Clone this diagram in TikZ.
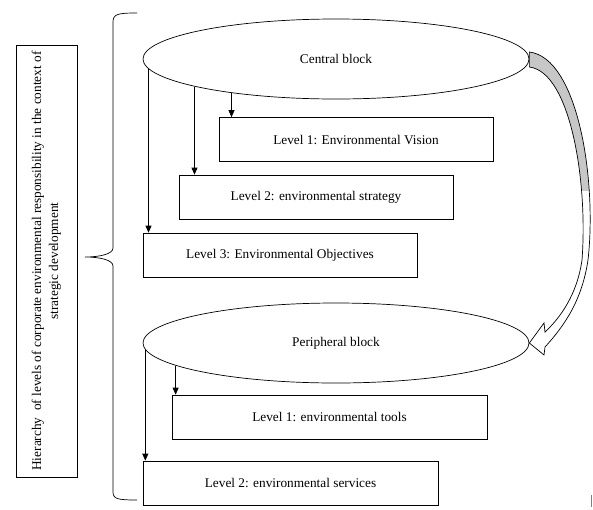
\documentclass[tikz,border=0pt]{standalone}
\usepackage{fontspec}
\setmainfont{Liberation Serif}
\usetikzlibrary{shapes.geometric, arrows.meta}

% outline of the bent block arrow between the two blocks
\newcommand{\turnarrow}{([yshift=7pt]central.east)
  .. controls (578,58) and (597,180) .. (588,260)
  .. controls (582,300) and (565,325) .. (545,347)
  -- (544,355) -- (peripheral.east) -- (544,323) -- (545,332)
  .. controls (560,318) and (577,295) .. (582,260)
  .. controls (588,180) and (570,72) .. ([yshift=-8pt]central.east) -- cycle}

\begin{document}
\begin{tikzpicture}[
    > = {Triangle[length=7pt, width=6pt]}, % arrow head style
    x = 1pt, y = -1pt, % pixel like coordinates
    line width = 0.7pt, % line style
    font = \fontsize{13.3}{17}\selectfont
  ]

  \tikzstyle{level}=[
  draw = black,
  rectangle,
  minimum height = 44pt,
  inner sep = 1pt
  ]
  \tikzstyle{block}=[
  draw = black,
  ellipse,
  minimum width = 386pt,
  minimum height = 80pt,
  inner sep = 0pt
  ]

  \useasboundingbox (0,0) rectangle (593,509);

  \node (title) [draw, rotate = 90, minimum width = 432pt, minimum height = 61pt,
    align = center, inner sep = 1pt] at (46.5,261)
    {Hierarchy \ of levels of corporate environmental responsibility in the context of\\ strategic development};

  % brace
  \draw (137,13) .. controls (118,13) and (113,14) .. (113,22) -- (113,248)
    .. controls (113,254) and (100,257) .. (85,257)
    .. controls (100,257) and (113,260) .. (113,266) -- (113,492)
    .. controls (113,499) and (118,500) .. (137,500);

  \node (central) [block] at (336,59) {Central block};
  \node (vision) [level, minimum width = 274pt] at (356,139.5) {Level 1: Environmental Vision};
  \node (strategy) [level, minimum width = 274pt] at (316,197) {Level 2: environmental strategy};
  \node (objectives) [level, minimum width = 274pt] at (280,255) {Level 3: Environmental Objectives};

  \node (peripheral) [block] at (336,343) {Peripheral block};
  \node (tools) [level, minimum width = 315pt] at (329.5,417) {Level 1: environmental tools};
  \node (services) [level, minimum width = 295pt] at (290.5,483) {Level 2: environmental services};

  \draw[->] (central.198) -- (central.198 |- vision.north);
  \draw[->] (central.191) -- (central.191 |- strategy.north);
  \draw[->] (central.183) -- (central.183 |- objectives.north);
  \draw[->] (peripheral.188.4) -- (peripheral.188.4 |- tools.north);
  \draw[->] (peripheral.182.7) -- (peripheral.182.7 |- services.north);

  % bent arrow, shaded at the top
  \fill[white] \turnarrow;
  \begin{scope}
    \clip (500,0) rectangle (593,190);
    \fill[black!22] \turnarrow;
  \end{scope}
  \draw \turnarrow;

  \draw[black!50] (591,495) -- (591,507);
\end{tikzpicture}
\end{document}
